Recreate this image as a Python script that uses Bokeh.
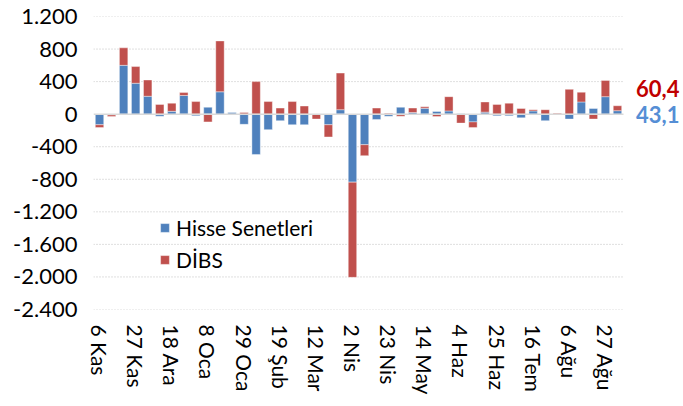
import numpy as np
from bokeh.plotting import figure
from bokeh.models import Range1d, FixedTicker, Legend, LegendItem
from bokeh.core.properties import value
from bokeh.embed import file_html
from bokeh.resources import INLINE

weeks = list(range(44))
x_tick_idx = [0, 3, 6, 9, 12, 15, 18, 21, 24, 27, 30, 33, 36, 39, 42]
x_tick_labels = ["6 Kas", "27 Kas", "18 Ara", "8 Oca", "29 Oca", "19 Şub", "12 Mar",
                 "2 Nis", "23 Nis", "14 May", "4 Haz", "25 Haz", "16 Tem", "6 Ağu", "27 Ağu"]
y_ticks = [-2400, -2000, -1600, -1200, -800, -400, 0, 400, 800, 1200]
y_tick_labels = ["-2.400", "-2.000", "-1.600", "-1.200", "-800", "-400", "0", "400", "800", "1.200"]

hisse = [-130, -10, 600, 380, 220, -25, 35, 230, -20, 85, 275, 20, -125, -495, -190, -80,
         -130, -130, 0, -130, 55, -835, -375, -65, -25, 85, 20, 72, 33, 40, 5, -95, 25, -20,
         -20, -45, 40, -80, -5, -60, 150, 70, 215, 43.1]
dibs = [-35, -20, 215, 205, 200, 120, 100, 35, 155, -95, 625, -10, 20, 400, 155, 75,
        155, 100, -60, -150, 450, -1170, -135, 75, 10, -25, 55, 18, -30, 175, -110, -70, 125, 120,
        135, 70, 15, 55, 10, 305, 120, -60, 200, 60.4]
last_labels = ["60,4", "43,1"]
last_label_y = [310, 0]
last_label_colors = ["#C00000", "#558ED5"]

h = np.array(hisse, dtype=float)
d = np.array(dibs, dtype=float)
red_bottom = np.where(d >= 0, np.maximum(h, 0), np.minimum(h, 0))
red_top = red_bottom + d

FONT = "Lato"
BLUE = "#4F81BD"
RED = "#C0504D"

# plot area spans 44 weeks over 530 px; extra room on the right for the end labels
x_start, x_end_bars = -0.5, len(weeks) - 0.5
px_per_unit = 530 / len(weeks)
x_end = x_end_bars + 60 / px_per_unit

p = figure(width=683, height=406, x_range=Range1d(x_start, x_end), y_range=Range1d(-2400, 1200),
           output_backend="svg", toolbar_location=None,
           min_border_left=93, min_border_right=0, min_border_top=16, min_border_bottom=97)
p.outline_line_color = None
p.xgrid.visible = False
p.ygrid.visible = False

# dotted horizontal gridlines limited to the bar area
grid_y = [t for t in y_ticks if t != 0]
p.segment(x0=[x_start] * len(grid_y), x1=[x_end_bars] * len(grid_y), y0=grid_y, y1=grid_y,
          line_color="#BFBFBF", line_dash="1 2", line_width=1)

r1 = p.vbar(x=weeks, bottom=0, top=hisse, width=0.7, fill_color=BLUE,
            line_color="white", line_alpha=0.5, line_width=0.8)
r2 = p.vbar(x=weeks, bottom=red_bottom, top=red_top, width=0.7, fill_color=RED,
            line_color="white", line_alpha=0.5, line_width=0.8)

# zero line
p.segment(x0=[x_start], x1=[x_end_bars], y0=[0], y1=[0], line_color="#D9D9D9", line_width=1.5)

p.yaxis.ticker = FixedTicker(ticks=y_ticks)
p.yaxis.major_label_overrides = {t: l for t, l in zip(y_ticks, y_tick_labels)}
p.yaxis.axis_line_color = None
p.yaxis.major_tick_line_color = None
p.yaxis.minor_tick_line_color = None
p.yaxis.major_label_text_font = FONT
p.yaxis.major_label_text_font_size = "22px"
p.yaxis.major_label_text_color = "#000000"
p.yaxis.major_label_standoff = 10

p.xaxis.ticker = FixedTicker(ticks=x_tick_idx)
p.xaxis.major_label_overrides = {t: l for t, l in zip(x_tick_idx, x_tick_labels)}
p.xaxis.axis_line_color = None
p.xaxis.major_tick_line_color = None
p.xaxis.minor_tick_line_color = None
p.xaxis.major_label_orientation = "vertical"
p.xaxis.major_label_text_font = FONT
p.xaxis.major_label_text_font_size = "21px"
p.xaxis.major_label_text_color = "#000000"
p.xaxis.major_label_standoff = 9

legend = Legend(items=[LegendItem(label="Hisse Senetleri", renderers=[r1]),
                       LegendItem(label="DİBS", renderers=[r2])],
                location=(66, 37), background_fill_alpha=0, border_line_color=None,
                padding=0, margin=0, spacing=7, glyph_width=11, glyph_height=11,
                label_text_font=FONT, label_text_font_size="21px", label_standoff=6,
                label_text_color="#000000", label_height=25)
p.add_layout(legend)

# end-of-series value labels
p.text(x=[weeks[-1]] * 2, y=last_label_y, text=last_labels, x_offset=62,
       text_align="right", text_baseline="middle", text_font=value(FONT),
       text_font_size="22px", text_font_style="bold", text_color=last_label_colors)

open("out.html", "w").write(file_html(p, INLINE))
